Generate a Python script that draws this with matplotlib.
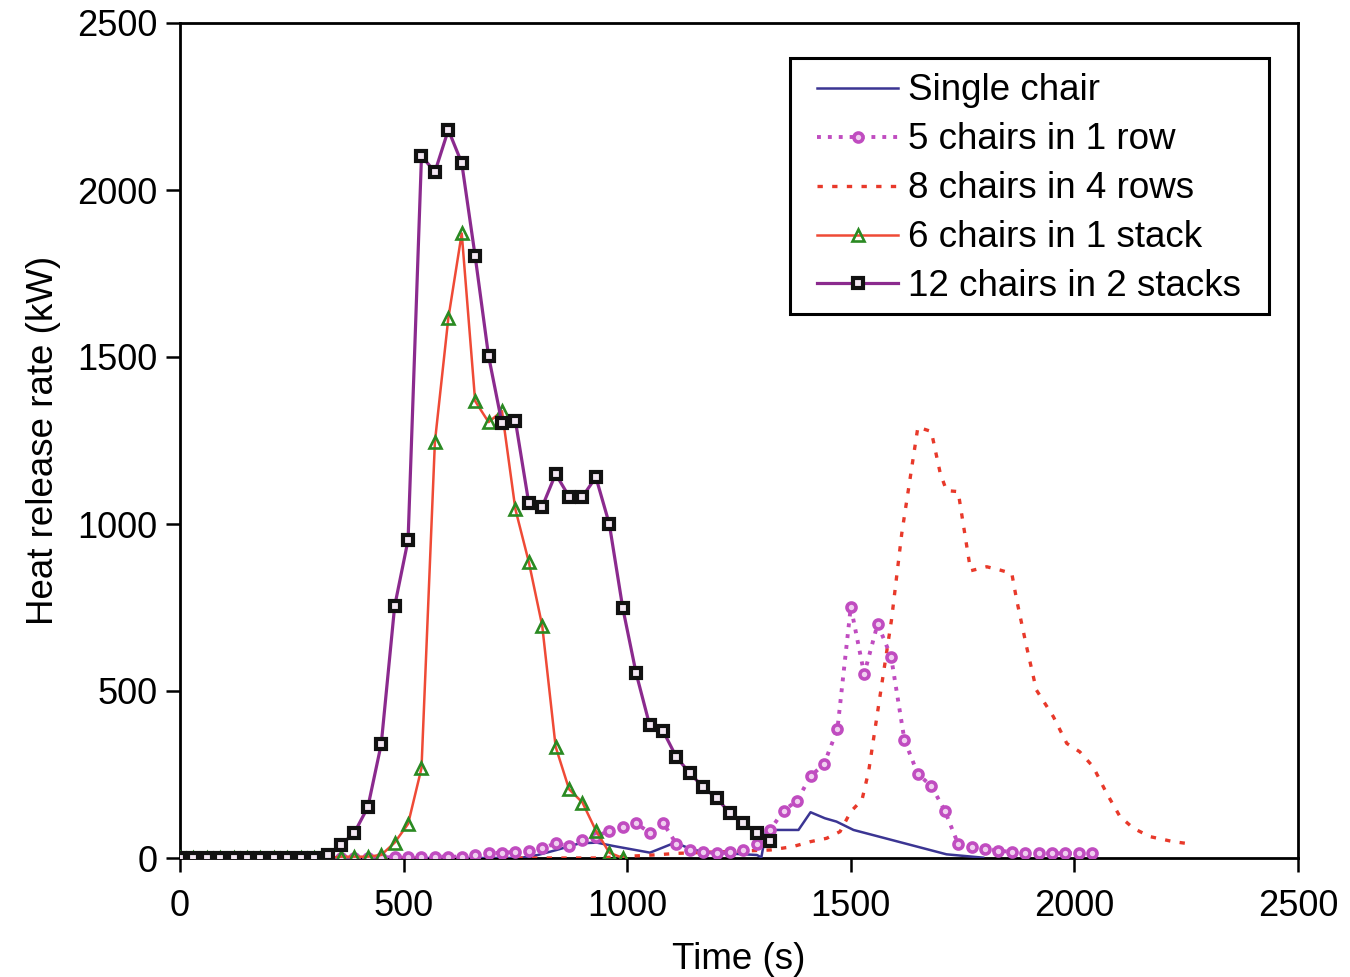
import matplotlib
matplotlib.use("Agg")
import matplotlib.pyplot as plt
from matplotlib.patches import Rectangle

plt.rcParams['font.family'] = ['Liberation Sans', 'DejaVu Sans']

# ---- data ----
t12 = list(range(0, 1321, 30))
hrr12 = [0, 0, 0, 0, 0, 0, 0, 0, 0, 0, 0, 10,
         39, 76, 152, 341, 754, 952, 2102, 2054, 2180, 2081, 1802, 1503,
         1301, 1309, 1062, 1052, 1150, 1082, 1082, 1140, 1000, 749, 553, 399,
         381, 302, 254, 212, 179, 134, 104, 76, 52]

t6 = list(range(0, 991, 30))
hrr6 = [0, 0, 0, 0, 0, 0, 0, 0, 0, 0, 0, 0,
        4, 4, 4, 9, 46, 102, 269, 1246, 1616, 1870, 1368, 1305,
        1338, 1044, 886, 695, 333, 206, 166, 82, 16, 0]

t5 = list(range(0, 2041, 30))
hrr5 = [0, 0, 0, 0, 0, 0, 0, 0, 0, 0, 0, 0, 0, 0, 0, 0,
        4, 4, 4, 4, 4, 4, 9, 14, 16, 18, 20, 29, 44, 36, 54, 64,
        82, 92, 104, 76, 106, 42, 24, 19, 14, 19, 24, 42, 85, 142, 172, 245,
        281, 385, 752, 551, 701, 603, 353, 251, 216, 142, 42, 32, 28, 22, 18, 16,
        14, 14, 14, 14, 14]

t1 = [0, 760, 800, 842, 894, 932, 969, 1051, 1107, 1148, 1192, 1290, 1300,
      1311, 1383, 1410, 1442, 1468, 1506, 1714, 1796]
hrr1 = [0, 0, 9, 24, 44, 46, 36, 16, 46, 24, 16, 9, 2,
        84, 84, 137, 119, 109, 84, 11, 1]

t8 = [0, 930, 1058, 1114, 1320, 1370, 1410, 1446, 1476, 1500, 1525, 1540,
      1591, 1614, 1650, 1680, 1700, 1714, 1740, 1768, 1804, 1834, 1860, 1871,
      1893, 1915, 1953, 1983, 2012, 2042, 2072, 2102, 2132, 2169, 2221, 2260]
hrr8 = [0, 0, 9, 14, 24, 34, 49, 59, 79, 139, 174, 260,
        713, 972, 1290, 1277, 1152, 1100, 1097, 860, 872, 862, 852, 772,
        633, 503, 423, 343, 318, 273, 194, 124, 89, 64, 49, 42]

labels = ["Single chair", "5 chairs in 1 row", "8 chairs in 4 rows",
          "6 chairs in 1 stack", "12 chairs in 2 stacks"]
xticks = [0, 500, 1000, 1500, 2000, 2500]
yticks = [0, 500, 1000, 1500, 2000, 2500]

# ---- figure ----
fig = plt.figure(figsize=(13.5, 9.77), dpi=100)
ax = fig.add_axes([180/1350, 1-858/977, 1118/1350, 835/977])

c_single = '#3b3593'
c_five = '#c04cc0'
c_eight = '#e8392a'
c_six = '#ef4a36'
c_twelve = '#8b2a8e'

ax.plot(t1, hrr1, color=c_single, lw=1.8, label=labels[0], zorder=3)
ax.plot(t5, hrr5, color=c_five, lw=2.8, ls=(0, (1.0, 1.8)),
        marker='o', ms=6.5, mfc='#f0d0f0', mec=c_five, mew=2.6,
        label=labels[1], zorder=4)
ax.plot(t8, hrr8, color=c_eight, lw=2.4, ls=(0, (1.6, 2.8)),
        label=labels[2], zorder=3)
ax.plot(t6, hrr6, color=c_six, lw=1.8, marker='^', ms=8.5,
        mfc='none', mec='#2a8a22', mew=1.9, label=labels[3], zorder=5)
ax.plot(t12, hrr12, color=c_twelve, lw=2.3, marker='s', ms=7.6,
        mfc='#f4e8f4', mec='#111111', mew=3.0, label=labels[4], zorder=6)

ax.set_xlim(0, 2500)
ax.set_ylim(0, 2500)
ax.set_xticks(xticks)
ax.set_yticks(yticks)
ax.tick_params(direction='out', length=10, width=1.8, labelsize=26,
               colors='black')
ax.tick_params(axis='x', pad=12)
ax.tick_params(axis='y', pad=6)
for s in ax.spines.values():
    s.set_linewidth(2.0)
    s.set_color('black')

ax.set_xlabel("Time (s)", fontsize=26.5, labelpad=13)
ax.set_ylabel("Heat release rate (kW)", fontsize=26.5, labelpad=12)

# legend box drawn as a plain rectangle (axes coordinates)
box = Rectangle((0.5456, 0.6515), 0.4284, 0.3066, transform=ax.transAxes,
                facecolor='white', edgecolor='black', lw=2.2, zorder=9)
ax.add_patch(box)
leg = ax.legend(loc='upper left', bbox_to_anchor=(0.5698, 0.9396),
                fontsize=26.5, frameon=False,
                handlelength=2.2, handletextpad=0.28, labelspacing=0.38,
                borderpad=0.0, borderaxespad=0.0)
leg.set_zorder(10)

fig.savefig("out.png", dpi=100)
